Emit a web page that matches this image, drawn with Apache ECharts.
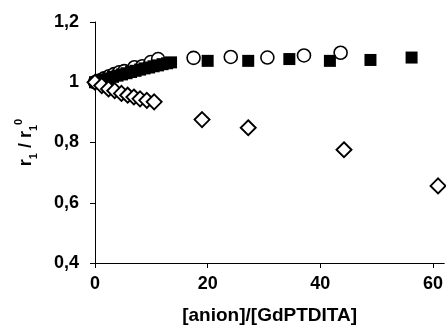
<!DOCTYPE html>
<html>
<head>
<meta charset="utf-8">
<script src="https://cdn.jsdelivr.net/npm/echarts@6/dist/echarts.min.js"></script>
<style>html,body{margin:0;padding:0;background:#fff}#c{width:446px;height:331px}</style>
</head>
<body>
<div id="c"></div>
<script>
// Open circles
var circlesX = [0, 0.8, 1.6, 2.5, 3.4, 4.3, 5.2, 7.0, 8.4, 9.9, 11.2, 17.5, 24.1, 30.6, 37.1, 43.6];
var circlesY = [1.0, 1.006, 1.013, 1.02, 1.027, 1.033, 1.037, 1.05, 1.053, 1.067, 1.077, 1.081, 1.084, 1.082, 1.089, 1.098];
// Filled squares
var squaresX = [0, 0.8, 1.6, 2.4, 3.2, 4.0, 4.8, 5.6, 6.4, 7.2, 8.0, 8.8, 9.6, 10.4, 11.2, 12.0, 12.8, 13.5, 20.0, 27.2, 34.5, 41.7, 48.9, 56.2];
var squaresY = [1.0, 1.004, 1.009, 1.013, 1.018, 1.022, 1.026, 1.03, 1.034, 1.038, 1.042, 1.046, 1.049, 1.053, 1.056, 1.06, 1.063, 1.066, 1.071, 1.071, 1.077, 1.071, 1.074, 1.082];
// Open diamonds
var diamondsX = [0, 1.2, 2.4, 3.5, 4.7, 5.8, 6.9, 8.0, 9.2, 10.5, 19.0, 27.2, 44.2, 60.9];
var diamondsY = [1.0, 0.989, 0.978, 0.972, 0.963, 0.957, 0.951, 0.945, 0.94, 0.935, 0.876, 0.849, 0.776, 0.656];
var xTicks = [0, 20, 40, 60];
var yTicks = [0.4, 0.6, 0.8, 1.0, 1.2];

function pairs(xs, ys) { return xs.map(function (x, i) { return [x, ys[i]]; }); }
var fam = '"Liberation Sans", Arial, sans-serif';
var chart = echarts.init(document.getElementById('c'));
chart.setOption({
  animation: false,
  backgroundColor: '#fff',
  grid: { left: 95, right: 0, top: 22, bottom: 68, containLabel: false },
  xAxis: {
    type: 'value', min: 0, max: 62, interval: 20,
    name: '[anion]/[GdPTDITA]', nameLocation: 'middle', nameGap: 43,
    nameTextStyle: { fontFamily: fam, fontWeight: 'bold', fontSize: 19, color: '#000' },
    axisLine: { show: true, lineStyle: { color: '#000', width: 1 } },
    axisTick: { show: true, length: 5, lineStyle: { color: '#000' }, customValues: xTicks },
    axisLabel: { fontFamily: fam, fontWeight: 'bold', fontSize: 18, color: '#000', margin: 12, customValues: xTicks,
      formatter: function (v) { return String(v); } },
    splitLine: { show: false }
  },
  yAxis: {
    type: 'value', min: 0.4, max: 1.2, interval: 0.2,
    name: '{a|r}{s|1}{a| / r}{s|1}{p|0}', nameLocation: 'middle', nameGap: 56, nameRotate: 90,
    nameTextStyle: {
      rich: {
        a: { fontFamily: fam, fontWeight: 'bold', fontSize: 18, color: '#000', lineHeight: 26, verticalAlign: 'middle' },
        s: { fontFamily: fam, fontWeight: 'bold', fontSize: 11, color: '#000', lineHeight: 26, verticalAlign: 'bottom' },
        p: { fontFamily: fam, fontWeight: 'bold', fontSize: 11, color: '#000', lineHeight: 26, verticalAlign: 'top' }
      }
    },
    axisLine: { show: true, lineStyle: { color: '#000', width: 1 } },
    axisTick: { show: true, length: 5, lineStyle: { color: '#000' } },
    axisLabel: { fontFamily: fam, fontWeight: 'bold', fontSize: 18, color: '#000', margin: 16,
      formatter: function (v) { return (Math.round(v * 10) / 10).toString().replace('.', ','); } },
    splitLine: { show: false }
  },
  series: [
    { type: 'scatter', data: pairs(circlesX, circlesY), symbol: 'circle', symbolSize: 13,
      itemStyle: { color: '#fff', borderColor: '#000', borderWidth: 1.6, opacity: 1 }, z: 2 },
    { type: 'scatter', data: pairs(squaresX, squaresY), symbol: 'rect', symbolSize: 12,
      itemStyle: { color: '#000', borderColor: '#000', borderWidth: 0, opacity: 1 }, z: 3 },
    { type: 'scatter', data: pairs(diamondsX, diamondsY), symbol: 'diamond', symbolSize: [15, 15],
      itemStyle: { color: '#fff', borderColor: '#000', borderWidth: 1.9, opacity: 1 }, z: 4 }
  ]
});
</script>
</body>
</html>
